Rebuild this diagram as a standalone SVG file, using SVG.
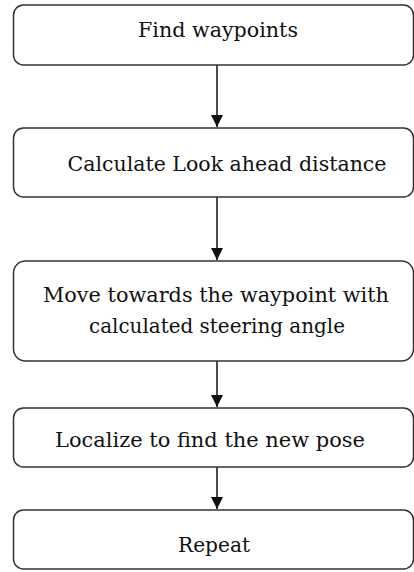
<svg xmlns="http://www.w3.org/2000/svg" width="414" height="572" viewBox="0 0 414 572">
<style>
.box{fill:#fff;stroke:#333;stroke-width:1.5}
.t{font-family:'DejaVu Serif','Liberation Serif',serif;font-size:21px;fill:#111;text-anchor:middle}
.c{stroke:#111;stroke-width:1.5;fill:none}
</style>
<defs>
<marker id="ah" markerWidth="12" markerHeight="12" refX="10" refY="5" orient="auto" markerUnits="userSpaceOnUse" viewBox="0 0 10 10">
<path d="M0,0 L10,5 L0,10 z" fill="#111"/>
</marker>
</defs>
<rect width="414" height="572" fill="#fff"/>
<g id="connectors">
<line class="c" x1="217" y1="65" x2="217" y2="127" marker-end="url(#ah)"/>
<line class="c" x1="217" y1="197" x2="217" y2="260" marker-end="url(#ah)"/>
<line class="c" x1="217" y1="361" x2="217" y2="407" marker-end="url(#ah)"/>
<line class="c" x1="217" y1="467" x2="217" y2="509" marker-end="url(#ah)"/>
</g>
<g id="n1"><rect class="box" x="13.5" y="5" width="400" height="60" rx="10"/><text class="t" x="218" y="37" textLength="160" lengthAdjust="spacingAndGlyphs">Find waypoints</text></g>
<g id="n2"><rect class="box" x="13.5" y="128" width="400" height="69" rx="10"/><text class="t" x="227" y="171" textLength="319" lengthAdjust="spacingAndGlyphs">Calculate Look ahead distance</text></g>
<g id="n3"><rect class="box" x="13.5" y="261" width="400" height="100" rx="12"/><text class="t" x="216" y="302" textLength="346" lengthAdjust="spacingAndGlyphs">Move towards the waypoint with</text><text class="t" x="217" y="333" textLength="256" lengthAdjust="spacingAndGlyphs">calculated steering angle</text></g>
<g id="n4"><rect class="box" x="13.5" y="408" width="400" height="59" rx="10"/><text class="t" x="210" y="447" textLength="310" lengthAdjust="spacingAndGlyphs">Localize to find the new pose</text></g>
<g id="n5"><rect class="box" x="13.5" y="510" width="400" height="59" rx="10"/><text class="t" x="214" y="552" textLength="72" lengthAdjust="spacingAndGlyphs">Repeat</text></g>
</svg>
